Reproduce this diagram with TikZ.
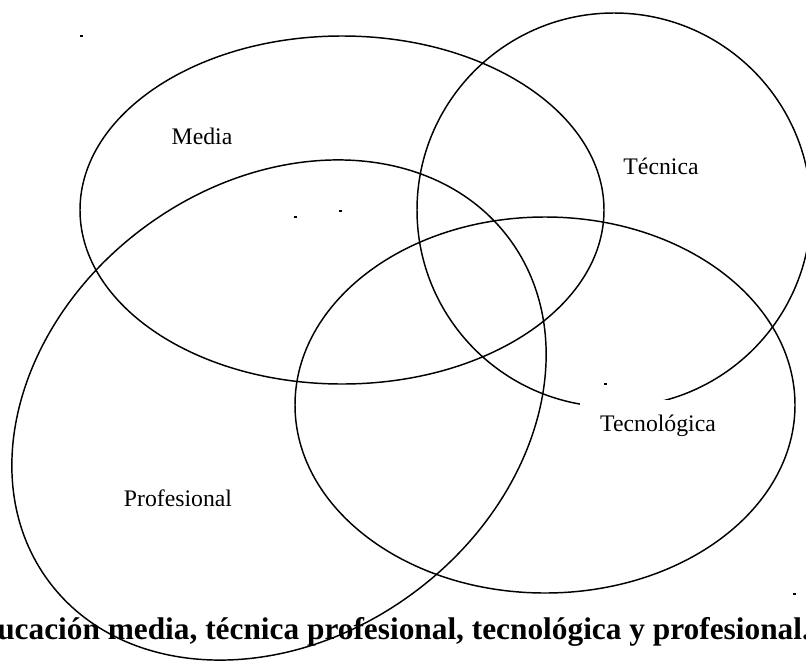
\documentclass[tikz,border=0pt]{standalone}
\usepackage{fontspec}
\setmainfont{Liberation Serif}
\usepackage{xcolor}
\usepackage{tikz}

\tikzset{
  ring/.style={draw=black,line width=1.1pt},
  lbl/.style={font=\fontsize{17.8}{20}\selectfont,anchor=base,inner sep=0pt},
  speck/.style={fill=black}
}

\begin{document}
\begin{tikzpicture}[x=0.75pt,y=-0.75pt]
      \useasboundingbox (0,0) rectangle (806,661);
      % sets
      \draw[ring] (342,210) ellipse (262 and 174);
      \draw[ring] (614,210) ellipse (197 and 197);
      \draw[ring] (545,405) ellipse (250 and 188);
      % labels
      \node[lbl] (media) at (202,144) {Media};
      \node[lbl] (tecnica) at (661,174) {Técnica};
      \node[lbl] (profesional) at (178,506) {Profesional};
      \node[lbl,fill=white,inner xsep=15pt,inner ysep=11pt] (tecnologica) at (658,431) {Tecnológica};
      % stray marks
      \fill[speck] (80,35) rectangle (83,37);
      \fill[speck] (294,216) rectangle (297,218);
      \fill[speck] (339,210) rectangle (342,212);
      \fill[speck] (604,383) rectangle (607,385);
      \fill[speck] (793,593) rectangle (796,595);
      % caption
      \node[anchor=base west,inner sep=0pt,font=\fontsize{23.5}{28}\bfseries\selectfont] (caption) at (-3,639) {ucación media, técnica profesional, tecnológica y profesional.};
      % profesional ring is drawn over the caption
      \draw[ring,rotate around={36.7:(279,410)}] (279,410) ellipse (287 and 227);
    \end{tikzpicture}
\end{document}
